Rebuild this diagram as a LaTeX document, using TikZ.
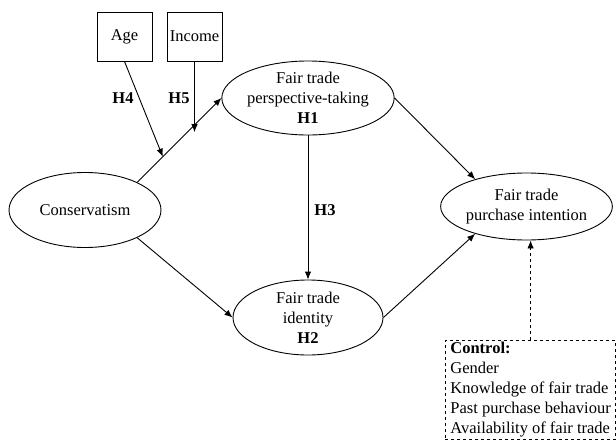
\documentclass[tikz,border=0pt]{standalone}
\usepackage{fontspec}
\setmainfont{Liberation Serif}
\usetikzlibrary{shapes.geometric,arrows.meta,calc}
\begin{document}
\begin{tikzpicture}[x=1pt,y=-1pt,
  every node/.style={font=\fontsize{16.5}{20}\selectfont},
  ell/.style={draw,ellipse,line width=0.9pt,inner sep=0pt,align=center},
  sqbox/.style={draw,rectangle,line width=0.9pt,inner sep=0pt,minimum width=55pt,minimum height=49pt},
  arr/.style={line width=0.9pt,-{Latex[length=8pt,width=6.5pt]}},
  hlab/.style={font=\fontsize{16.5}{20}\selectfont\bfseries}
]
\useasboundingbox (0,0) rectangle (616,442);
\node[ell,minimum width=152pt,minimum height=75pt] (cons) at (85,210) {Conservatism};
\node[ell,minimum width=150pt,minimum height=74pt] (top) at (308,98) {Fair trade\\perspective-taking\\\textbf{H1}};
\node[ell,minimum width=150pt,minimum height=75pt] (bot) at (308,317.5) {Fair trade\\identity\\\textbf{H2}};
\node[ell,minimum width=141pt,minimum height=67pt] (pi) at (526.5,206.5) {Fair trade\\purchase intention};
\node[sqbox] (age) at (124.5,36.5) {Age};
\node[sqbox] (inc) at (194.5,36.5) {Income};
\node[draw,dashed,line width=0.8pt,anchor=north west,minimum width=169pt,minimum height=99pt,
  align=left,inner xsep=5pt,inner ysep=0pt] (ctrl) at (445,340)
  {\textbf{Control:}\\Gender\\Knowledge of fair trade\\Past purchase behaviour\\Availability of fair trade};

\draw[arr] (cons.28) -- (top.west);
\draw[arr] (cons.-28) -- (bot.west);
\draw[arr] (top.east) -- (pi.152);
\draw[arr] (bot.east) -- (pi.208);
\draw[arr] (top.south) -- (bot.north);
\coordinate (h4) at ($(cons.28)!0.304!(top.west)$);
\coordinate (h5) at ($(cons.28)!0.595!(top.west)$);
\draw[arr] (age.south) -- (h4);
\draw[arr] (inc.south) -- (inc.south |- h5);
\draw[arr,dashed] (ctrl.north) -- (ctrl.north |- pi.south);

\node[hlab] (l4) at (123,98) {H4};
\node[hlab] (l5) at (179,98) {H5};
\node[hlab] (l3) at (325,210) {H3};
\end{tikzpicture}
\end{document}
